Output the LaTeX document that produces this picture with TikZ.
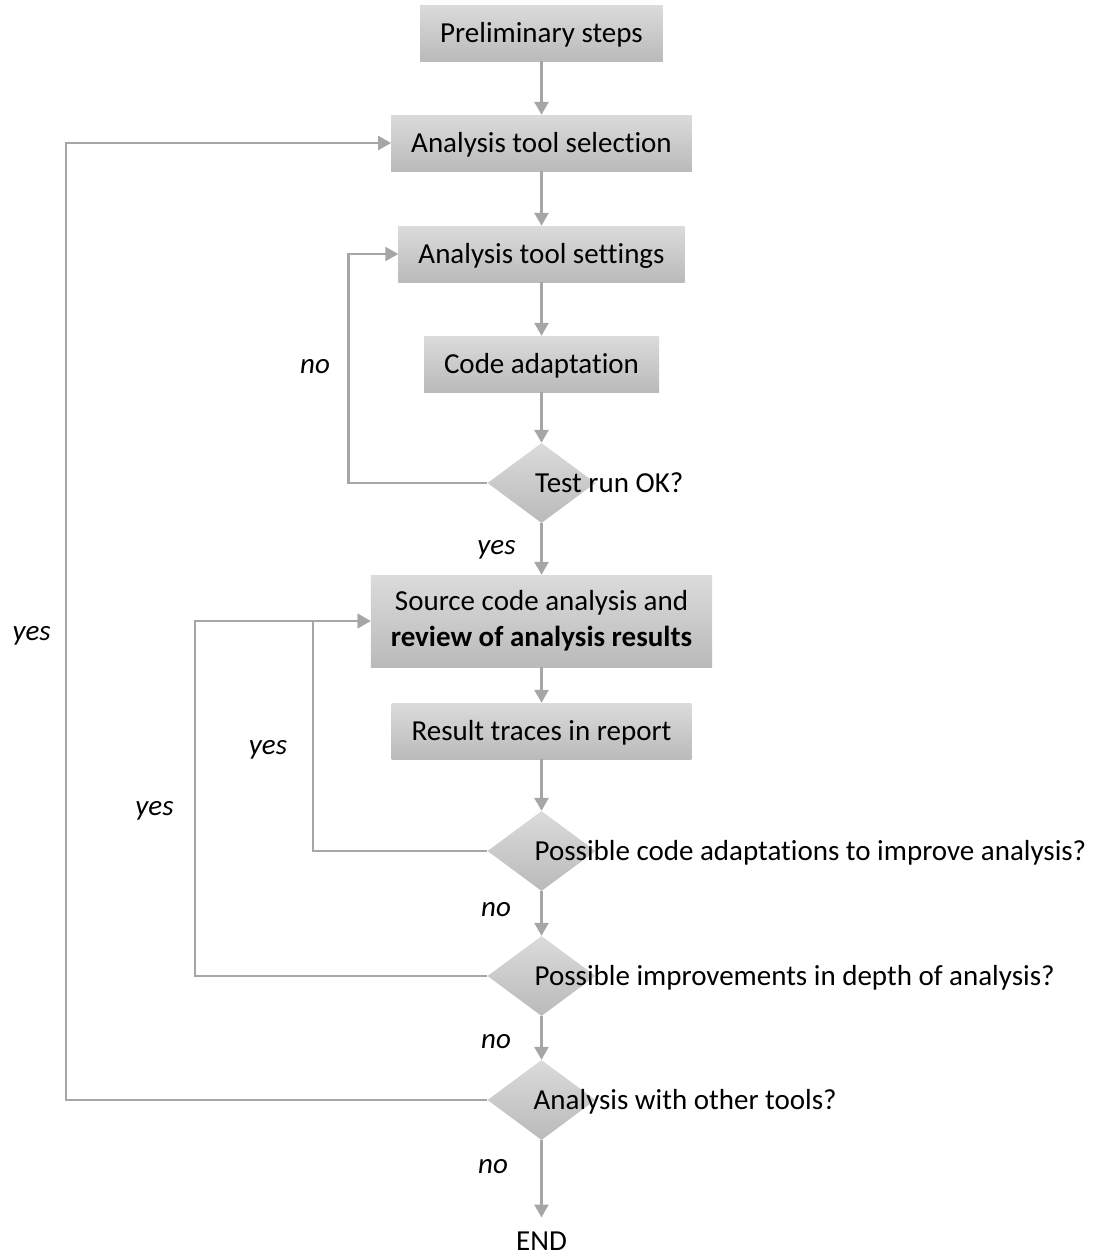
\documentclass[tikz,border=0pt]{standalone}
\usepackage{fontspec}
\setmainfont{Carlito}[Ligatures=NoCommon]
\usetikzlibrary{shapes.geometric,arrows.meta}
\definecolor{linegray}{RGB}{166,166,166}
\definecolor{boxtop}{RGB}{219,219,219}
\definecolor{boxbot}{RGB}{186,186,186}
\begin{document}
\begin{tikzpicture}[x=1pt,y=-1pt,
  fnt/.style={font=\fontsize{29pt}{36pt}\selectfont},
  boxbase/.style={fnt, rectangle, top color=boxtop, bottom color=boxbot, draw=none,
    inner xsep=20pt, inner ysep=0pt},
  stepbox/.style={boxbase, minimum height=56pt, text height=24pt, text depth=4.5pt},
  decision/.style={diamond, top color=boxtop, bottom color=boxbot, draw=none,
    inner sep=0pt, minimum width=108pt, minimum height=80pt},
  qtext/.style={fnt, anchor=base west, inner sep=0pt},
  lbl/.style={font=\fontsize{29pt}{36pt}\selectfont\itshape, inner sep=0pt},
  arr/.style={draw=linegray, line width=2.6pt, -{Triangle[width=14pt,length=13pt]}},
]
\useasboundingbox (0,0) rectangle (1098,1258);

% boxes
\node[stepbox] (b1) at (541.5,33) {Preliminary steps};
\node[stepbox] (b2) at (541.5,143) {Analysis tool selection};
\node[stepbox] (b3) at (541.5,254) {Analysis tool settings};
\node[stepbox] (b4) at (541.5,364) {Code adaptation};
\node[decision] (d1) at (541.5,483) {};
\node[boxbase, align=center, minimum height=92pt] (b5) at (541.5,621)
  {Source code analysis and\\\textbf{review of analysis results}};
\node[stepbox] (b6) at (541.5,731) {Result traces in report};
\node[decision] (d2) at (541.5,851) {};
\node[decision] (d3) at (541.5,976) {};
\node[decision] (d4) at (541.5,1100) {};
\node[fnt, inner sep=0pt] (endn) at (541.5,1241) {END};

% question texts
\node[qtext] (q1) at (535,492.5) {Test run OK?};
\node[qtext] (q2) at (534.5,860.5) {Possible code adaptations to improve analysis?};
\node[qtext] (q3) at (534.5,985.5) {Possible improvements in depth of analysis?};
\node[qtext] (q4) at (533.5,1109.5) {Analysis with other tools?};

% main flow
\draw[arr] (b1) -- (b2);
\draw[arr] (b2) -- (b3);
\draw[arr] (b3) -- (b4);
\draw[arr] (b4) -- (d1);
\draw[arr] (d1) -- (b5);
\draw[arr] (b5) -- (b6);
\draw[arr] (b6) -- (d2);
\draw[arr] (d2) -- (d3);
\draw[arr] (d3) -- (d4);
\draw[arr, shorten >=14pt] (d4) -- (endn);

% loops
\coordinate (xno) at (348.3,0);
\coordinate (xy1) at (313,0);
\coordinate (xy2) at (195,0);
\coordinate (xy3) at (66,0);
\draw[arr] (d1.west) -- (d1.west -| xno) |- (b3.west);
\draw[arr] (d2.west) -- (d2.west -| xy1) |- (b5.west);
\draw[arr] (d3.west) -- (d3.west -| xy2) |- (b5.west);
\draw[arr] (d4.west) -- (d4.west -| xy3) |- (b2.west);

% labels
\node[lbl] (l1) at (315,366.7) {no};
\node[lbl] (l2) at (496.5,550) {yes};
\node[lbl] (l3) at (31.7,636) {yes};
\node[lbl] (l4) at (268,750) {yes};
\node[lbl] (l5) at (154.5,810.7) {yes};
\node[lbl] (l6) at (496,910) {no};
\node[lbl] (l7) at (496,1041.7) {no};
\node[lbl] (l8) at (493,1167) {no};
\end{tikzpicture}
\end{document}
